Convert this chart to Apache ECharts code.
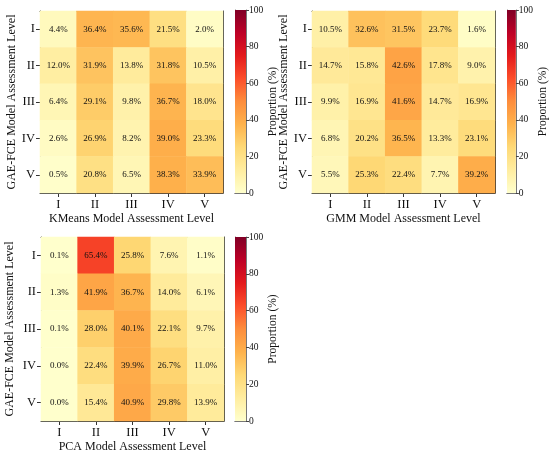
<!DOCTYPE html>
<html>
<head>
<meta charset="utf-8">
<script src="https://cdn.jsdelivr.net/npm/echarts@6/dist/echarts.min.js"></script>
<style>
html,body{margin:0;padding:0;background:#fff}
#main{width:550px;height:457px}
</style>
</head>
<body>
<div id="main"></div>
<script>
// levels (rows = GAE-FCE, columns = clustering model)
var levels = ['I', 'II', 'III', 'IV', 'V']

// KMeans vs GAE-FCE (%)
var kmeans = [
  [4.4, 36.4, 35.6, 21.5, 2.0],
  [12.0, 31.9, 13.8, 31.8, 10.5],
  [6.4, 29.1, 9.8, 36.7, 18.0],
  [2.6, 26.9, 8.2, 39.0, 23.3],
  [0.5, 20.8, 6.5, 38.3, 33.9]
]

// GMM vs GAE-FCE (%)
var gmm = [
  [10.5, 32.6, 31.5, 23.7, 1.6],
  [14.7, 15.8, 42.6, 17.8, 9.0],
  [9.9, 16.9, 41.6, 14.7, 16.9],
  [6.8, 20.2, 36.5, 13.3, 23.1],
  [5.5, 25.3, 22.4, 7.7, 39.2]
]

// PCA vs GAE-FCE (%)
var pca = [
  [0.1, 65.4, 25.8, 7.6, 1.1],
  [1.3, 41.9, 36.7, 14.0, 6.1],
  [0.1, 28.0, 40.1, 22.1, 9.7],
  [0.0, 22.4, 39.9, 26.7, 11.0],
  [0.0, 15.4, 40.9, 29.8, 13.9]
]

// colorbar scale
var cbMin = 0
var cbMax = 100
var cbStep = 20

var yTitle = 'GAE-FCE Model Assessment Level'
var cbTitle = 'Proportion (%)'

// YlOrRd
var ylorrd = ['#ffffcc', '#ffeda0', '#fed976', '#feb24c', '#fd8d3c', '#fc4e2a', '#e31a1c', '#bd0026', '#800026']

var panels = [
  {mat: kmeans, xname: 'KMeans Model Assessment Level', grid: {left: 40, top: 11, width: 183, height: 182}, cb: {left: 235, top: 10, width: 11, height: 183}, ygap: 22},
  {mat: gmm, xname: 'GMM Model Assessment Level', grid: {left: 312, top: 11, width: 183, height: 182}, cb: {left: 507, top: 10, width: 10, height: 183}, ygap: 18},
  {mat: pca, xname: 'PCA Model Assessment Level', grid: {left: 41, top: 237, width: 183, height: 184}, cb: {left: 235, top: 237, width: 11, height: 184}, ygap: 25}
]

var boxColor = '#333'
var cbBoxColor = '#777'

var grids = []
var xAxes = []
var yAxes = []
var series = []
var heatIdx = []

function toCells(mat) {
  var out = []
  for (var r = 0; r < mat.length; r++) {
    for (var c = 0; c < mat[r].length; c++) {
      out.push([c, r, mat[r][c]])
    }
  }
  return out
}

function lineOnly(type, pos, gi, data, inv) {
  return {
    type: type, gridIndex: gi, position: pos, data: data, inverse: inv,
    axisLine: {show: true, lineStyle: {color: boxColor, width: 1}},
    axisTick: {show: false}, axisLabel: {show: false}, splitLine: {show: false}
  }
}

for (var p = 0; p < panels.length; p++) {
  var pn = panels[p]
  var gi = grids.length
  grids.push(pn.grid)

  var xi = xAxes.length
  xAxes.push({
    type: 'category', gridIndex: gi, position: 'bottom', data: levels,
    name: pn.xname, nameLocation: 'middle', nameGap: 20,
    nameTextStyle: {fontSize: 12, color: '#111'},
    axisLine: {show: true, lineStyle: {color: boxColor, width: 1}},
    axisTick: {show: true, alignWithLabel: true, length: 4, lineStyle: {color: boxColor}},
    axisLabel: {fontSize: 12.5, color: '#111', margin: 5},
    splitLine: {show: false}
  })
  xAxes.push(lineOnly('category', 'top', gi, levels, false))

  var yi = yAxes.length
  yAxes.push({
    type: 'category', gridIndex: gi, position: 'left', data: levels, inverse: true,
    name: yTitle, nameLocation: 'middle', nameGap: pn.ygap,
    nameTextStyle: {fontSize: 12, color: '#111'},
    axisLine: {show: true, lineStyle: {color: boxColor, width: 1}},
    axisTick: {show: true, alignWithLabel: true, length: 4, lineStyle: {color: boxColor}},
    axisLabel: {fontSize: 12.5, color: '#111', margin: 5},
    splitLine: {show: false}
  })
  yAxes.push(lineOnly('category', 'right', gi, levels, true))

  heatIdx.push(series.length)
  series.push({
    type: 'heatmap', xAxisIndex: xi, yAxisIndex: yi,
    data: toCells(pn.mat),
    label: {
      show: true, fontSize: 9, color: '#111',
      formatter: function (d) { return d.value[2].toFixed(1) + '%' }
    },
    emphasis: {disabled: true}
  })

  // colorbar
  var ci = grids.length
  grids.push(pn.cb)
  var cxi = xAxes.length
  var cbx = lineOnly('category', 'bottom', ci, [''], false)
  cbx.axisLine.lineStyle.color = cbBoxColor
  xAxes.push(cbx)
  var cbxt = lineOnly('category', 'top', ci, [''], false)
  cbxt.axisLine.lineStyle.color = cbBoxColor
  xAxes.push(cbxt)

  var cyi = yAxes.length
  yAxes.push({
    type: 'value', gridIndex: ci, position: 'right', min: cbMin, max: cbMax, interval: cbStep,
    name: cbTitle, nameLocation: 'middle', nameGap: 19, nameRotate: 90,
    nameTextStyle: {fontSize: 11.5, color: '#111'},
    axisLine: {show: true, lineStyle: {color: cbBoxColor, width: 1}},
    axisTick: {show: true, length: 3, lineStyle: {color: '#444'}},
    axisLabel: {fontSize: 9.5, color: '#111', margin: 3},
    splitLine: {show: false}
  })
  yAxes.push({
    type: 'value', gridIndex: ci, position: 'left', min: cbMin, max: cbMax,
    axisLine: {show: true, lineStyle: {color: cbBoxColor, width: 1}},
    axisTick: {show: false}, axisLabel: {show: false}, splitLine: {show: false}
  })

  series.push({
    type: 'bar', xAxisIndex: cxi, yAxisIndex: cyi, data: [cbMax], barWidth: '100%',
    silent: true,
    itemStyle: {
      color: new echarts.graphic.LinearGradient(0, 1, 0, 0, ylorrd.map(function (c, i) {
        return {offset: i / (ylorrd.length - 1), color: c}
      }))
    }
  })
}

var myChart = echarts.init(document.getElementById('main'))
myChart.setOption({
  animation: false,
  backgroundColor: '#fff',
  textStyle: {fontFamily: 'Liberation Serif'},
  grid: grids,
  xAxis: xAxes,
  yAxis: yAxes,
  visualMap: {
    type: 'continuous', show: false, min: cbMin, max: cbMax,
    seriesIndex: heatIdx, dimension: 2,
    inRange: {color: ylorrd}
  },
  series: series
})
</script>
</body>
</html>
